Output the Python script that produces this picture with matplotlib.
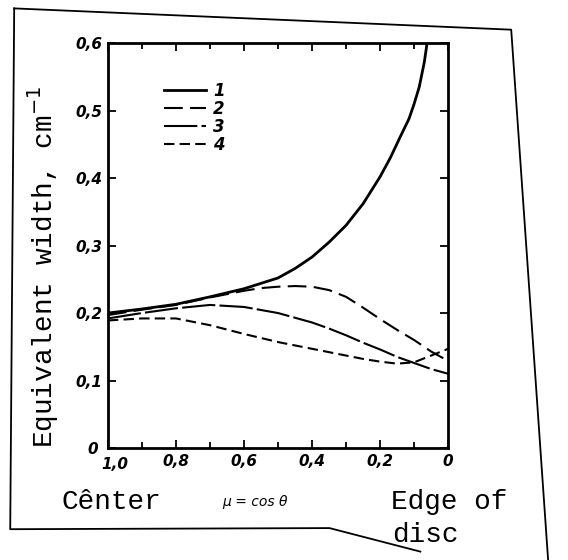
import matplotlib
matplotlib.use("Agg")
import matplotlib.pyplot as plt
from matplotlib.lines import Line2D
from matplotlib.ticker import MultipleLocator, FuncFormatter
from matplotlib.transforms import ScaledTranslation

# values (mu = cos theta, equivalent width in cm^-1)
mu1 = [1.0, 0.9, 0.8, 0.7, 0.6, 0.5, 0.45, 0.4, 0.35, 0.3, 0.25, 0.2, 0.17, 0.14, 0.115, 0.1, 0.085, 0.07, 0.062]
w1 = [0.200, 0.206, 0.213, 0.224, 0.236, 0.252, 0.266, 0.283, 0.305, 0.330, 0.362, 0.402, 0.430, 0.462, 0.488, 0.510, 0.535, 0.572, 0.600]

mu2 = [1.0, 0.9, 0.8, 0.7, 0.6, 0.55, 0.5, 0.45, 0.4, 0.35, 0.3, 0.25, 0.2, 0.15, 0.1, 0.05, 0.0]
w2 = [0.197, 0.205, 0.212, 0.223, 0.233, 0.237, 0.239, 0.240, 0.239, 0.234, 0.224, 0.208, 0.191, 0.175, 0.160, 0.143, 0.129]

mu3 = [1.0, 0.9, 0.8, 0.7, 0.6, 0.5, 0.4, 0.35, 0.3, 0.25, 0.2, 0.15, 0.1, 0.05, 0.0]
w3 = [0.192, 0.200, 0.207, 0.212, 0.209, 0.200, 0.186, 0.177, 0.167, 0.156, 0.146, 0.135, 0.126, 0.117, 0.110]

mu4 = [1.0, 0.9, 0.8, 0.7, 0.6, 0.5, 0.4, 0.3, 0.25, 0.2, 0.15, 0.1, 0.05, 0.0]
w4 = [0.189, 0.192, 0.192, 0.182, 0.169, 0.157, 0.147, 0.137, 0.132, 0.128, 0.125, 0.127, 0.137, 0.147]

series_labels = ["1", "2", "3", "4"]
x_ticks = [1.0, 0.8, 0.6, 0.4, 0.2, 0.0]
y_ticks = [0.0, 0.1, 0.2, 0.3, 0.4, 0.5, 0.6]

mono = "Liberation Mono"

fig = plt.figure(figsize=(5.68, 5.6), dpi=100)
ax = fig.add_axes([0.190, 0.200, 0.599, 0.723])

ax.plot(mu1, w1, color="black", lw=2.0, label=series_labels[0])
ax.plot(mu2, w2, color="black", lw=1.5, dashes=(9, 3.5), label=series_labels[1])
ax.plot(mu3, w3, color="black", lw=1.5, dashes=(16, 2), label=series_labels[2])
ax.plot(mu4, w4, color="black", lw=1.5, dashes=(5, 2.5), label=series_labels[3])

ax.set_xlim(1.0, 0.0)
ax.set_ylim(0.0, 0.6)

ax.set_xticks(x_ticks)
ax.set_yticks(y_ticks)
ax.xaxis.set_minor_locator(MultipleLocator(0.1))

def comma_fmt(v, pos):
    if abs(v) < 1e-9:
        return "0"
    return f"{v:.1f}".replace(".", ",")

ax.xaxis.set_major_formatter(FuncFormatter(comma_fmt))
ax.yaxis.set_major_formatter(FuncFormatter(comma_fmt))

ax.tick_params(which="both", direction="in", top=True, right=True, width=1.3, color="black")
ax.tick_params(which="major", length=6, pad=4)
ax.tick_params(which="minor", length=4)
for lab in ax.get_xticklabels() + ax.get_yticklabels():
    lab.set_fontstyle("italic")
    lab.set_fontweight("bold")
    lab.set_fontsize(11)

# the "1,0" label sits a little right of the corner in the scan
first = ax.get_xticklabels()[0]
first.set_transform(first.get_transform() + ScaledTranslation(7 / 100, -3 / 100, fig.dpi_scale_trans))
zero = ax.get_yticklabels()[0]
zero.set_transform(zero.get_transform() + ScaledTranslation(-4 / 100, 0, fig.dpi_scale_trans))

for sp in ax.spines.values():
    sp.set_linewidth(2.0)

leg = ax.legend(loc="upper left", bbox_to_anchor=(0.14, 0.925), frameon=False,
                handlelength=2.5, handletextpad=0.45, labelspacing=0.0,
                borderpad=0.0, prop={"style": "italic", "weight": "bold", "size": 12})

# axis labels, typewriter style as in the scan
fig.text(0.076, 0.523, "Equivalent width, cm$^{-1}$", rotation=90, ha="center", va="center",
         family=mono, fontsize=20)
fig.text(0.196, 0.104, "Cênter", ha="center", va="center", family=mono, fontsize=20)
fig.text(0.449, 0.104, "μ = cos θ", ha="center", va="center", fontsize=10, style="italic")
fig.text(0.688, 0.104, "Edge of", ha="left", va="center", family=mono, fontsize=20)
fig.text(0.690, 0.045, "disc", ha="left", va="center", family=mono, fontsize=20)

# page border of the scan
border_kw = dict(color="black", lw=1.3, transform=fig.transFigure)
fig.add_artist(Line2D([0.025, 0.018, 0.58, 0.74], [0.985, 0.055, 0.057, 0.015], **border_kw))
fig.add_artist(Line2D([0.025, 0.90, 0.965], [0.985, 0.947, 0.0], **border_kw))

fig.savefig("out.png", dpi=100)
